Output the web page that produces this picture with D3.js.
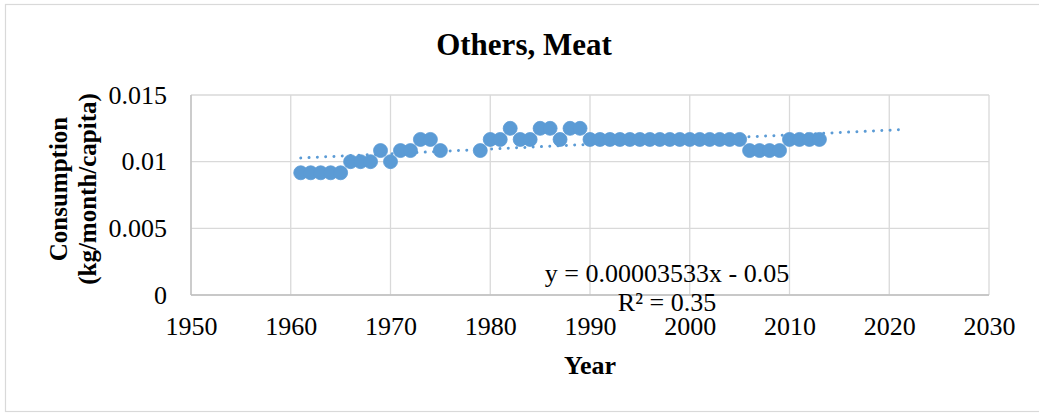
<!DOCTYPE html>
<html>
<head>
<meta charset="utf-8">
<script src="https://cdn.jsdelivr.net/npm/d3@7"></script>
<style>
  html, body { margin: 0; padding: 0; background: #fff; }
  svg { display: block; font-family: "Liberation Serif", "Times New Roman", serif; }
</style>
</head>
<body>
<svg id="chart" width="1039" height="413"></svg>
<script>
// Per-capita meat consumption ("Others" group), kg/month/capita
const years = [
  1961, 1962, 1963, 1964, 1965, 1966, 1967, 1968, 1969, 1970,
  1971, 1972, 1973, 1974, 1975, 1979, 1980, 1981, 1982, 1983,
  1984, 1985, 1986, 1987, 1988, 1989, 1990, 1991, 1992, 1993,
  1994, 1995, 1996, 1997, 1998, 1999, 2000, 2001, 2002, 2003,
  2004, 2005, 2006, 2007, 2008, 2009, 2010, 2011, 2012, 2013
];
// yearly amounts (kg/year/capita); divided by 12 for monthly values
const yearlyKg = [
  0.11, 0.11, 0.11, 0.11, 0.11, 0.12, 0.12, 0.12, 0.13, 0.12,
  0.13, 0.13, 0.14, 0.14, 0.13, 0.13, 0.14, 0.14, 0.15, 0.14,
  0.14, 0.15, 0.15, 0.14, 0.15, 0.15, 0.14, 0.14, 0.14, 0.14,
  0.14, 0.14, 0.14, 0.14, 0.14, 0.14, 0.14, 0.14, 0.14, 0.14,
  0.14, 0.14, 0.13, 0.13, 0.13, 0.13, 0.14, 0.14, 0.14, 0.14
];
const consumption = yearlyKg.map(v => v / 12);

const xTicks = [1950, 1960, 1970, 1980, 1990, 2000, 2010, 2020, 2030];
const yTicks = [0, 0.005, 0.01, 0.015];
const yTickLabels = ["0", "0.005", "0.01", "0.015"];
const trendForward = 8; // years the trendline is projected past the last point

const equationText = "y = 0.00003533x - 0.05";
const rSquaredText = "R² = 0.35";

const svg = d3.select("#chart");
const blue = "#5B9BD5";

const plot = { left: 191, right: 989, top: 95, bottom: 295 };
const x = d3.scaleLinear().domain([1950, 2030]).range([plot.left, plot.right]);
const y = d3.scaleLinear().domain([0, 0.015]).range([plot.bottom, plot.top]);

// outer chart frame
svg.append("rect")
  .attr("x", 5.5).attr("y", 4.5)
  .attr("width", 1045).attr("height", 407)
  .attr("fill", "none").attr("stroke", "#d9d9d9").attr("stroke-width", 1.2);

// title
svg.append("text")
  .attr("x", 524).attr("y", 55)
  .attr("text-anchor", "middle")
  .attr("font-weight", "bold").attr("font-size", 31)
  .text("Others, Meat");

// gridlines
const grid = svg.append("g");
grid.selectAll("line.v").data(xTicks).join("line")
  .attr("x1", d => x(d)).attr("x2", d => x(d))
  .attr("y1", plot.top).attr("y2", plot.bottom)
  .attr("stroke", "#d9d9d9").attr("stroke-width", 1.3);
grid.selectAll("line.h").data(yTicks).join("line")
  .attr("x1", plot.left).attr("x2", plot.right)
  .attr("y1", d => y(d)).attr("y2", d => y(d))
  .attr("stroke", "#d9d9d9").attr("stroke-width", 1.3);

// axis lines
svg.append("line")
  .attr("x1", plot.left).attr("x2", plot.left)
  .attr("y1", plot.top).attr("y2", plot.bottom)
  .attr("stroke", "#bfbfbf").attr("stroke-width", 1.3);
svg.append("line")
  .attr("x1", plot.left).attr("x2", plot.right)
  .attr("y1", plot.bottom).attr("y2", plot.bottom)
  .attr("stroke", "#bfbfbf").attr("stroke-width", 1.3);

// axis tick labels via d3 axes
const xAxis = d3.axisBottom(x).tickValues(xTicks).tickFormat(d3.format("d")).tickSize(0).tickPadding(22);
const gx = svg.append("g").attr("transform", `translate(0,${plot.bottom})`).call(xAxis);
gx.select(".domain").remove();
gx.selectAll("text").attr("font-size", 26).attr("font-family", "Liberation Serif").attr("fill", "#000");

const yAxis = d3.axisLeft(y).tickValues(yTicks).tickFormat((d, i) => yTickLabels[i]).tickSize(0).tickPadding(24);
const gy = svg.append("g").attr("transform", `translate(${plot.left},0)`).call(yAxis);
gy.select(".domain").remove();
gy.selectAll("text").attr("font-size", 26).attr("font-family", "Liberation Serif").attr("fill", "#000");

// axis titles
svg.append("text")
  .attr("x", 590).attr("y", 374)
  .attr("text-anchor", "middle")
  .attr("font-weight", "bold").attr("font-size", 26)
  .text("Year");

const yTitle = svg.append("text")
  .attr("transform", "translate(67,189) rotate(-90)")
  .attr("text-anchor", "middle")
  .attr("font-weight", "bold").attr("font-size", 25);
yTitle.append("tspan").attr("x", 0).attr("y", 0).text("Consumption");
yTitle.append("tspan").attr("x", 0).attr("y", 29).text("(kg/month/capita)");

// linear trendline (least squares), projected forward
const n = years.length;
const mx = d3.mean(years), my = d3.mean(consumption);
let sxy = 0, sxx = 0;
for (let i = 0; i < n; i++) {
  sxy += (years[i] - mx) * (consumption[i] - my);
  sxx += (years[i] - mx) ** 2;
}
const slope = sxy / sxx;
const intercept = my - slope * mx;
const tStart = d3.min(years), tEnd = d3.max(years) + trendForward;

// markers
svg.append("g").selectAll("circle")
  .data(years.map((yr, i) => ({ yr, v: consumption[i] })))
  .join("circle")
  .attr("cx", d => x(d.yr))
  .attr("cy", d => y(d.v))
  .attr("r", 7)
  .attr("fill", blue)
  .attr("stroke", blue)
  .attr("stroke-width", 0.8);

svg.append("line")
  .attr("x1", x(tStart)).attr("y1", y(slope * tStart + intercept))
  .attr("x2", x(tEnd)).attr("y2", y(slope * tEnd + intercept))
  .attr("stroke", blue).attr("stroke-width", 3)
  .attr("stroke-linecap", "round")
  .attr("stroke-dasharray", "0.01 8.3");

// trendline equation
svg.append("text")
  .attr("x", 667).attr("y", 282)
  .attr("text-anchor", "middle")
  .attr("font-size", 26)
  .text(equationText);
svg.append("text")
  .attr("x", 667).attr("y", 311)
  .attr("text-anchor", "middle")
  .attr("font-size", 26)
  .text(rSquaredText);
</script>
</body>
</html>
